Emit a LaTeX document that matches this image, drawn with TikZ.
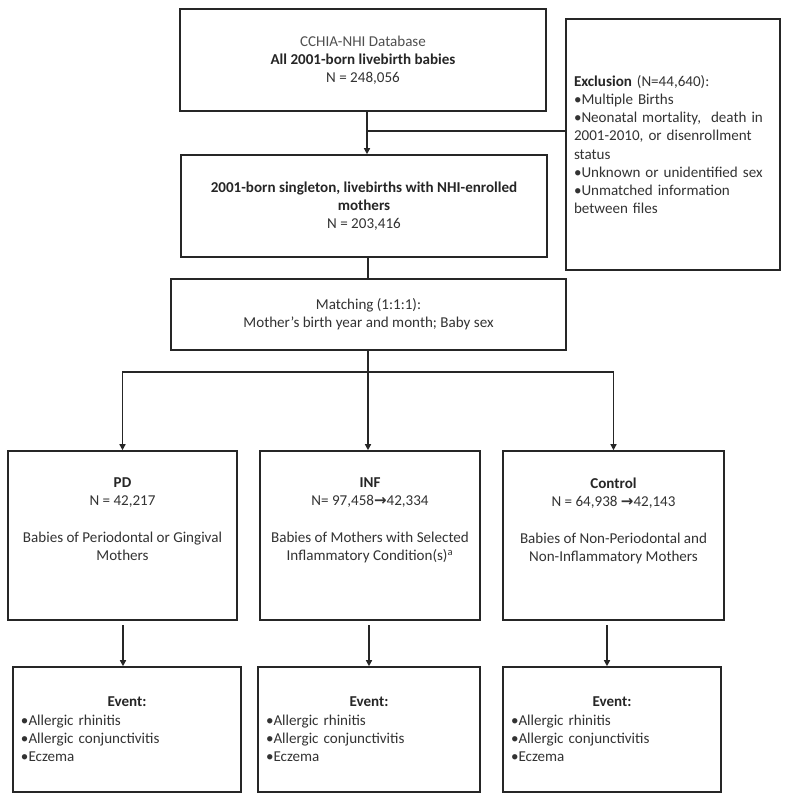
\documentclass[tikz,border=0pt]{standalone}
\usepackage{fontspec}
\setmainfont{Carlito}
\newfontfamily\symfont{DejaVu Sans}
\usetikzlibrary{arrows.meta}
\definecolor{ink}{HTML}{262626}
\definecolor{txt}{HTML}{333333}
\definecolor{lighttxt}{HTML}{505050}
\newcommand{\rarr}{{\symfont\bfseries\char"2192}}
\tikzset{
  box/.style={draw=ink, line width=1.2pt, fill=white, inner sep=0pt, align=center,
    text=txt, font=\fontsize{11.3}{13.7}\selectfont},
  wh/.style 2 args={minimum width=#1*0.75pt, minimum height=#2*0.75pt},
  listbox/.style 2 args={box, align=left, inner xsep=6pt, inner ysep=0pt,
    text width=#1*0.75pt-12pt, minimum height=#2*0.75pt},
  conn/.style={draw=ink, line width=1pt},
  arr/.style={conn, -{Triangle[length=4.5pt,width=4.5pt]}},
  lbl/.style={inner sep=0pt, align=center, text=txt, font=\fontsize{11.3}{13.7}\selectfont}
}
\begin{document}
\begin{tikzpicture}[x=0.75pt,y=-0.75pt]
\useasboundingbox[fill=white] (0,0) rectangle (789,800);

% top boxes
\node[box, wh={366}{102}] (top) at (363,60)
  {{\color{lighttxt}CCHIA-NHI Database}\\ \textbf{\color{black!85}All 2001-born livebirth babies}\\ N = 248,056};
\node[box, wh={366}{102}] (sec) at (364,206)
  {\textbf{\color{black!85}2001-born singleton, livebirths with NHI-enrolled}\\ \textbf{\color{black!85}mothers}\\ N = 203,416};
\node[listbox={214}{251}] (excl) at (673,144.5)
  {\textbf{\color{black!85}Exclusion} (N=44,640):\\ •Multiple Births\\ •Neonatal mortality,\ \ death in\\ 2001-2010, or disenrollment\\ status\\ •Unknown or unidentified sex\\ •Unmatched information\\ between files};
\node[box, wh={395}{71}] (match) at (368.5,314.5)
  {Matching (1:1:1):\\ Mother’s birth year and month; Baby sex};

% middle boxes
\node[box, wh={229}{169}] (pd) at (122.5,535.5) {};
\node[box, wh={220}{169}] (inf) at (370,535.5) {};
\node[box, wh={221}{169}] (ctl) at (613.5,535.5) {};
\node[lbl, anchor=north] (pdt) at ([yshift=-20.5pt]pd.north)
  {\textbf{\color{black!85}PD}\\ N = 42,217\\[13.7pt] Babies of Periodontal or Gingival\\ Mothers};
\node[lbl, anchor=north] (inft) at ([yshift=-20.5pt]inf.north)
  {\textbf{\color{black!85}INF}\\ N= 97,458\rarr42,334\\[13.7pt] Babies of Mothers with Selected\\ Inflammatory Condition(s)\textsuperscript{a}};
\node[lbl, anchor=north] (ctlt) at ([yshift=-20.5pt]ctl.north)
  {\textbf{\color{black!85}Control}\\ N = 64,938 \rarr42,143\\[13.7pt] Babies of Non-Periodontal and\\ Non-Inflammatory Mothers};

% event boxes
\node[listbox={228}{125}] (pdev) at (127,729.5)
  {\makebox[\linewidth]{\textbf{\color{black!85}Event:}}\\ •Allergic rhinitis\\ •Allergic conjunctivitis\\ •Eczema\\[4pt]};
\node[listbox={222}{125}] (infev) at (369,729.5)
  {\makebox[\linewidth]{\textbf{\color{black!85}Event:}}\\ •Allergic rhinitis\\ •Allergic conjunctivitis\\ •Eczema\\[4pt]};
\node[listbox={218}{125}] (ctlev) at (612,729.5)
  {\makebox[\linewidth]{\textbf{\color{black!85}Event:}}\\ •Allergic rhinitis\\ •Allergic conjunctivitis\\ •Eczema\\[4pt]};

% connectors
\coordinate (ej) at (367,131);
\draw[arr] (top.south -| ej) -- (sec.north -| ej);
\draw[conn] (ej) -- (ej -| excl.west);
\coordinate (br) at (368,372);
\draw[conn] (sec.south -| br) -- (match.north -| br);
\draw[conn] (match.south -| br) -- (br);
\draw[arr] (br) -| (pd.north);
\draw[arr] (br) -- (br |- inf.north);
\draw[arr] (br) -| (ctl.north);
\coordinate (d1) at (123,625);
\coordinate (d2) at (369,625);
\coordinate (d3) at (607,625);
\draw[arr] (d1) -- (d1 |- pdev.north);
\draw[arr] (d2) -- (d2 |- infev.north);
\draw[arr] (d3) -- (d3 |- ctlev.north);
\end{tikzpicture}
\end{document}
